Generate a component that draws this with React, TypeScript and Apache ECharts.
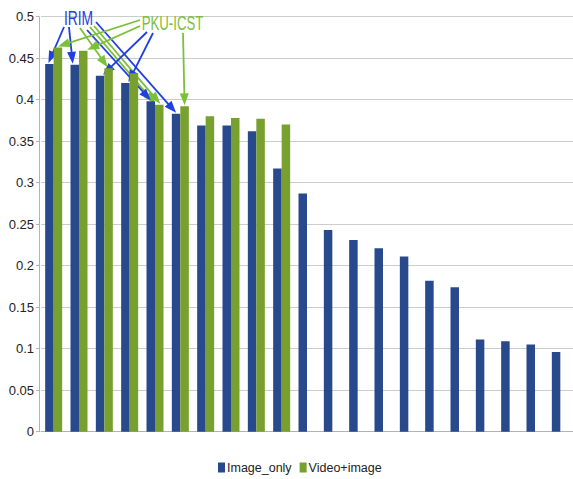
import React, { useEffect, useRef } from "react";
import * as echarts from "echarts";

const categories = ["1","2","3","4","5","6","7","8","9","10","11","12","13","14","15","16","17","18","19","20","21"];
const imageOnly = [0.443,0.442,0.429,0.420,0.398,0.383,0.369,0.369,0.362,0.317,0.287,0.243,0.231,0.221,0.211,0.182,0.174,0.111,0.109,0.105,0.096];
const videoImage = [0.463,0.459,0.438,0.432,0.394,0.392,0.380,0.378,0.377,0.370,null,null,null,null,null,null,null,null,null,null,null];
const seriesNames = ["Image_only", "Video+image"];
const yTicks = { min: 0, max: 0.5, interval: 0.05 };

// annotation labels and which bars their arrows point at
const irimTargets = [
  { s: 0, i: 0, from: [64, 27], dx: -1 },
  { s: 0, i: 1, from: [69, 27], dx: -2 },
  { s: 1, i: 2, from: [80, 28], dx: -1 },
  { s: 1, i: 4, from: [90, 27], dx: -4 },
  { s: 1, i: 4, from: [94, 26], dx: 1 },
  { s: 0, i: 4, from: [87, 30], dx: 0 },
  { s: 0, i: 5, from: [96, 22], dx: 0 },
];
const pkuTargets = [
  { s: 1, i: 0, from: [140, 20], dx: 0 },
  { s: 1, i: 1, from: [140, 26], dx: 4 },
  { s: 0, i: 2, from: [147, 32], dx: 3 },
  { s: 0, i: 3, from: [153, 33], dx: 3 },
  { s: 1, i: 5, from: [183, 33], dx: 0 },
];

const BLUE = "#284a8c";
const GREEN = "#77a02e";
const ARROW_BLUE = "#1f3fe0";
const ARROW_GREEN = "#7cc03a";
const FONT = "'Liberation Sans Narrow', 'Liberation Sans', Arial, sans-serif";
const BAR_W = 8.5;

export default function App() {
  const ref = useRef<HTMLDivElement>(null);
  useEffect(() => {
    if (!ref.current) return;
    const chart = echarts.init(ref.current, undefined, { renderer: "svg" });
    chart.setOption({
      animation: false,
      backgroundColor: "#fff",
      grid: { left: 41, right: -1, top: 16.7, bottom: 47.3 },
      legend: {
        left: 213,
        top: 456,
        icon: "rect",
        itemWidth: 7,
        itemHeight: 10,
        itemGap: 8,
        textStyle: { fontFamily: FONT, fontSize: 12.5, color: "#222", padding: [0, 0, 0, -3] },
        data: seriesNames,
      },
      xAxis: {
        type: "category",
        data: categories,
        axisLine: { lineStyle: { color: "#b3b3b3" } },
        axisTick: { show: false },
        axisLabel: { show: false },
      },
      yAxis: {
        type: "value",
        min: yTicks.min,
        max: yTicks.max,
        interval: yTicks.interval,
        offset: 2,
        axisLine: { show: true, lineStyle: { color: "#b3b3b3" } },
        axisTick: { show: true, length: 3, lineStyle: { color: "#b3b3b3" } },
        axisLabel: { fontFamily: FONT, fontSize: 13, color: "#222", margin: 5 },
        splitLine: { lineStyle: { color: "#cccccc" } },
      },
      series: [
        { name: seriesNames[0], type: "bar", data: imageOnly, barWidth: BAR_W, barGap: "0%", itemStyle: { color: BLUE } },
        { name: seriesNames[1], type: "bar", data: videoImage, barWidth: BAR_W, barGap: "0%", itemStyle: { color: GREEN } },
      ],
    });

    const values = [imageOnly, videoImage];
    const arrow = (from: number[], s: number, i: number, dx: number, color: string) => {
      const c = chart.convertToPixel({ xAxisIndex: 0 }, i) as number;
      const top = chart.convertToPixel({ yAxisIndex: 0 }, values[s][i] as number) as number;
      const tx = c + (s === 0 ? -BAR_W / 2 : BAR_W / 2) + dx;
      const ty = top - 1;
      const vx = tx - from[0];
      const vy = ty - from[1];
      const len = Math.sqrt(vx * vx + vy * vy);
      const ux = vx / len, uy = vy / len;
      const L = 12, W = 4.5;
      const bx = tx - ux * L, by = ty - uy * L;
      return [
        { type: "line", shape: { x1: from[0], y1: from[1], x2: bx + ux * 2, y2: by + uy * 2 }, style: { stroke: color, lineWidth: 1.8 } },
        { type: "polygon", shape: { points: [[tx, ty], [bx - uy * W, by + ux * W], [bx + uy * W, by - ux * W]] }, style: { fill: color } },
      ];
    };
    const elements: any[] = [];
    irimTargets.forEach((a) => elements.push(...arrow(a.from, a.s, a.i, a.dx, a.s === 0 ? ARROW_BLUE : ARROW_GREEN)));
    pkuTargets.forEach((a) => elements.push(...arrow(a.from, a.s, a.i, a.dx, a.s === 0 ? ARROW_BLUE : ARROW_GREEN)));
    elements.push({
      type: "text", x: 78.5, y: 17.5, scaleX: 0.66,
      style: { text: "IRIM", fill: ARROW_BLUE, font: `21px ${FONT}`, align: "center", verticalAlign: "middle" },
    });
    elements.push({
      type: "text", x: 172.5, y: 22.5, scaleX: 0.63,
      style: { text: "PKU-ICST", fill: ARROW_GREEN, font: `21px ${FONT}`, align: "center", verticalAlign: "middle" },
    });
    chart.setOption({ graphic: { elements } });
    return () => chart.dispose();
  }, []);
  return <div ref={ref} style={{ width: 573, height: 479, position: "absolute", left: 0, top: 0 }} />;
}
